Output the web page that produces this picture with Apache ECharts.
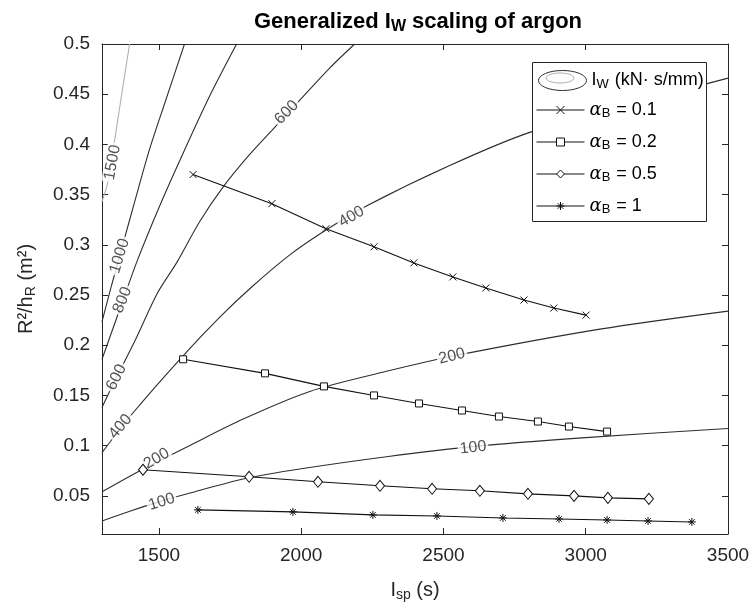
<!DOCTYPE html>
<html>
<head>
<meta charset="utf-8">
<script src="https://cdn.jsdelivr.net/npm/echarts@6/dist/echarts.min.js"></script>
<style>
  html, body { margin: 0; padding: 0; background: #fff; }
  #main { width: 753px; height: 610px; }
</style>
</head>
<body>
<div id="main"></div>
<script>
// contour lines of I_W (kN·s/mm): [Isp, R^2/h_R]
const iw100 = [[1300, 0.025], [1400, 0.035], [1500, 0.044], [1600, 0.052], [1800, 0.067], [2000, 0.077], [2300, 0.089], [2600, 0.099], [3000, 0.108], [3500, 0.117]];
const iw200 = [[1300, 0.054], [1440, 0.076], [1600, 0.099], [1800, 0.127], [2030, 0.154], [2300, 0.174], [2530, 0.189], [3050, 0.216], [3500, 0.234]];
const iw400 = [[1300, 0.093], [1404, 0.131], [1580, 0.188], [1714, 0.228], [1826, 0.258], [1960, 0.290], [2083, 0.314], [2224, 0.338], [2522, 0.379], [2803, 0.412], [3155, 0.440], [3500, 0.466]];
const iw600 = [[1300, 0.138], [1351, 0.168], [1415, 0.204], [1495, 0.252], [1562, 0.282], [1643, 0.323], [1724, 0.357], [1819, 0.390], [1907, 0.417], [1995, 0.444], [2100, 0.476], [2188, 0.500]];
const iw800 = [[1300, 0.186], [1374, 0.245], [1425, 0.285], [1503, 0.339], [1591, 0.395], [1678, 0.448], [1773, 0.500]];
const iw1000 = [[1300, 0.2235], [1334, 0.260], [1369, 0.296], [1415, 0.343], [1467, 0.395], [1524, 0.444], [1590, 0.500]];
const iw1500 = [[1300, 0.343], [1320, 0.362], [1345, 0.405], [1372, 0.455], [1397, 0.500]];
const contourLines = [iw100, iw200, iw400, iw600, iw800, iw1000, iw1500];

// inline contour labels: [Isp, R^2/h_R, text, angle]
const contourLabels = [
  [1337, 0.382, '1500', 80], [1362, 0.289, '1000', 73], [1372, 0.245, '800', 68],
  [1351, 0.168, '600', 64], [1365, 0.119, '400', 50], [1492, 0.087, '200', 30],
  [1510, 0.044, '100', 17], [1949, 0.432, '600', 46], [2177, 0.328, '400', 30],
  [2530, 0.189, '200', 14], [2604, 0.098, '100', 6]
];

// alpha_B curves
const ispA01 = [1620, 1897, 2087, 2256, 2396, 2533, 2649, 2783, 2888, 3001];
const rA01 = [0.370, 0.341, 0.316, 0.298, 0.282, 0.268, 0.257, 0.245, 0.237, 0.230];
const ispA02 = [1585, 1873, 2080, 2256, 2414, 2565, 2695, 2832, 2941, 3075];
const rA02 = [0.186, 0.172, 0.159, 0.150, 0.142, 0.135, 0.129, 0.124, 0.119, 0.114];
const ispA05 = [1444, 1817, 2059, 2277, 2460, 2628, 2797, 2959, 3078, 3222];
const rA05 = [0.076, 0.069, 0.064, 0.060, 0.057, 0.055, 0.052, 0.050, 0.048, 0.047];
const ispA1 = [1637, 1971, 2252, 2477, 2709, 2906, 3075, 3219, 3373];
const rA1 = [0.036, 0.034, 0.031, 0.030, 0.028, 0.027, 0.026, 0.025, 0.024];

const FONT = '"Liberation Sans", Arial, sans-serif';
const AX = '#262626';
const LINE = '#2e2e2e';
const MK = '#111';

function pairs(xs, ys) {
  return xs.map((x, i) => [x, ys[i]]);
}

const series = [];
contourLines.forEach((pts, i) => {
  series.push({
    name: 'contour',
    type: 'line',
    data: pts,
    smooth: 0.3,
    symbol: 'none',
    silent: true,
    z: 1,
    lineStyle: { color: i === 6 ? '#b0b0b0' : LINE, width: 1.1 },
    itemStyle: { color: LINE }
  });
});

// labels sit on a white box so the curve looks broken, like matlab clabel
series.push({
  type: 'scatter',
  silent: true,
  z: 2,
  symbolSize: 0,
  data: contourLabels.map(l => ({ value: [l[0], l[1]], label: { formatter: l[2], rotate: l[3] } })),
  label: {
    show: true, position: 'inside', fontSize: 16, color: AX, fontFamily: FONT,
    backgroundColor: '#fff', padding: [0, 2]
  }
});

const alphaSets = [
  { name: 'a0.1', data: pairs(ispA01, rA01), symbol: 'path://M0,0L10,10M10,0L0,10', size: 7 },
  { name: 'a0.2', data: pairs(ispA02, rA02), symbol: 'rect', size: 7 },
  { name: 'a0.5', data: pairs(ispA05, rA05), symbol: 'diamond', size: [9, 11] },
  { name: 'a1', data: pairs(ispA1, rA1), symbol: 'path://M5,0L5,10M0,5L10,5M1.5,1.5L8.5,8.5M8.5,1.5L1.5,8.5', size: 8 }
];
alphaSets.forEach(s => {
  series.push({
    name: s.name,
    type: 'line',
    data: s.data,
    symbol: s.symbol,
    symbolSize: s.size,
    showAllSymbol: true,
    silent: true,
    z: 3,
    lineStyle: { color: MK, width: 1.1 },
    itemStyle: { color: '#fff', borderColor: MK, borderWidth: 1 }
  });
});

const subRich = {
  t: { fontSize: 18, fontFamily: FONT, color: '#000', lineHeight: 20 },
  g: { fontSize: 18, fontFamily: 'DejaVu Serif', fontStyle: 'italic', color: '#000', lineHeight: 20 },
  s: { fontSize: 13, fontFamily: FONT, color: '#000', lineHeight: 13, verticalAlign: 'bottom', padding: [0, 1, 0, 0] }
};

const axisTitleRich = {
  t: { fontSize: 20, fontFamily: FONT, color: AX, lineHeight: 24 },
  s: { fontSize: 14, fontFamily: FONT, color: AX, lineHeight: 14, verticalAlign: 'bottom' }
};

function valueAxis(pos, min, max, split, showLabel) {
  return {
    type: 'value', position: pos, min: min, max: max, splitNumber: split,
    splitLine: { show: false },
    axisLine: { onZero: false, lineStyle: { color: AX, width: 1 } },
    axisTick: { inside: true, length: 6, lineStyle: { color: AX } },
    axisLabel: {
      show: showLabel, showMinLabel: false, fontSize: 19, color: AX, fontFamily: FONT, margin: 12,
      formatter: v => String(+v.toFixed(3))
    }
  };
}

const xMain = valueAxis('bottom', 1300, 3500, 5, true);
xMain.name = '{t|I}{s|sp}{t| (s)}';
xMain.nameLocation = 'middle';
xMain.nameGap = 44;
xMain.nameTextStyle = { rich: axisTitleRich };

const yMain = valueAxis('left', 0.012, 0.5, 10, true);
yMain.name = '{t|R²/h}{s|R}{t| (m²)}';
yMain.nameLocation = 'middle';
yMain.nameGap = 64;
yMain.nameTextStyle = { rich: axisTitleRich };

const chart = echarts.init(document.getElementById('main'), null, { renderer: 'canvas' });
chart.setOption({
  animation: false,
  backgroundColor: '#fff',
  title: {
    text: '{b|Generalized I}{s|W}{b| scaling of argon}',
    left: 413, top: 3, textAlign: 'center',
    textStyle: {
      rich: {
        b: { fontSize: 22, fontWeight: 'bold', fontFamily: FONT, color: '#000', lineHeight: 27 },
        s: { fontSize: 16, fontWeight: 'bold', fontFamily: FONT, color: '#000', lineHeight: 16, verticalAlign: 'bottom' }
      }
    }
  },
  grid: { left: 102, right: 25, top: 44, bottom: 76, containLabel: false },
  xAxis: [xMain, valueAxis('top', 1300, 3500, 5, false)],
  yAxis: [yMain, valueAxis('right', 0.012, 0.5, 10, false)],
  graphic: [{
    type: 'rect', left: 532, top: 62, z: 3, silent: true,
    shape: { width: 174, height: 159 },
    style: { fill: '#fff', stroke: AX, lineWidth: 1 }
  }, {
    // lighter inner ring of the contour legend icon
    type: 'ellipse', z: 6, silent: true,
    shape: { cx: 560, cy: 78, rx: 14, ry: 5 },
    style: { fill: 'none', stroke: '#b0b0b0', lineWidth: 1 }
  }],
  legend: [{
    data: [{
      name: 'contour',
      icon: 'path://M0,10A24,10 0 1,0 48,10A24,10 0 1,0 0,10Z',
      itemStyle: { color: 'none', borderColor: LINE, borderWidth: 1 }
    }],
    left: 536, top: 68, itemWidth: 48, itemHeight: 20, itemGap: 4, symbolKeepAspect: false,
    selectedMode: false, padding: 0, z: 5,
    formatter: () => '{t|I}{s|W}{t| (kN· s/mm)}',
    textStyle: { rich: subRich }
  }, {
    data: ['a0.1', 'a0.2', 'a0.5', 'a1'],
    orient: 'vertical', left: 536, top: 101, itemWidth: 48, itemHeight: 10, itemGap: 13,
    selectedMode: false, padding: 0, z: 5,
    lineStyle: { width: 1 },
    itemStyle: { borderWidth: 1 },
    formatter: n => '{g|α}{s|B}{t| = ' + n.slice(1) + '}',
    textStyle: { rich: subRich }
  }],
  series: series
});
</script>
</body>
</html>
